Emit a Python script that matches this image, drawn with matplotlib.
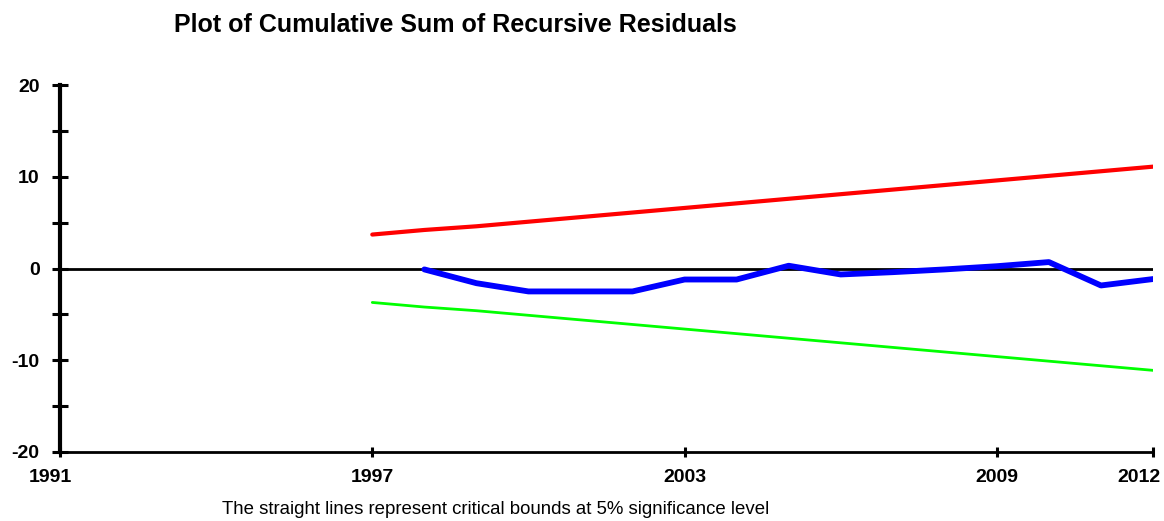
import matplotlib
matplotlib.use("Agg")
import matplotlib.pyplot as plt
import matplotlib.transforms as mtransforms

plt.rcParams['font.family'] = ['Liberation Sans', 'DejaVu Sans']

title = "Plot of Cumulative Sum of Recursive Residuals"
footnote = "The straight lines represent critical bounds at 5% significance level"

bound_years = [1997, 1998, 1999, 2000, 2001, 2002, 2003, 2004, 2005, 2006,
               2007, 2008, 2009, 2010, 2011, 2012]
upper_bound = [3.7, 4.2, 4.6, 5.1, 5.6, 6.1, 6.6, 7.1, 7.6, 8.1,
               8.6, 9.1, 9.6, 10.1, 10.6, 11.1]
lower_bound = [-3.7, -4.2, -4.6, -5.1, -5.6, -6.1, -6.6, -7.1, -7.6, -8.1,
               -8.6, -9.1, -9.6, -10.1, -10.6, -11.1]

cusum_years = [1998, 1999, 2000, 2001, 2002, 2003, 2004, 2005, 2006, 2007,
               2008, 2009, 2010, 2011, 2012]
cusum = [-0.1, -1.6, -2.5, -2.5, -2.5, -1.2, -1.2, 0.3, -0.65, -0.4,
         -0.1, 0.25, 0.7, -1.85, -1.15]

x_ticks = [1991, 1997, 2003, 2009, 2012]
y_major = [-20, -10, 0, 10, 20]
y_minor = [-15, -5, 5, 15]

fig = plt.figure(figsize=(11.64, 5.21), dpi=100)
ax = fig.add_axes([60/1164, 69/521, 1093/1164, 367/521])

ax.axhline(0, color='black', lw=2.0, zorder=2)
ax.plot(bound_years, upper_bound, color='#ff0000', lw=3.0, solid_capstyle='round', zorder=3)
ax.plot(bound_years, lower_bound, color='#00ff00', lw=2.0, solid_capstyle='round', zorder=3)
ax.plot(cusum_years, cusum, color='#0000ff', lw=4.2, solid_capstyle='round', zorder=4)

ax.set_xlim(1991, 2012)
ax.set_ylim(-20, 20)
ax.set_xticks(x_ticks)
ax.set_xticklabels([str(v) for v in x_ticks])
ax.set_yticks(y_major)
ax.set_yticklabels([str(v) for v in y_major])
ax.set_yticks(y_minor, minor=True)

for s in ['top', 'right']:
    ax.spines[s].set_visible(False)
ax.spines['left'].set_linewidth(3.0)
ax.spines['bottom'].set_linewidth(2.0)

ax.tick_params(axis='y', which='both', direction='inout', length=11.5, width=2.2,
               labelsize=14, pad=9)
ax.tick_params(axis='x', which='major', direction='inout', length=7, width=2.2,
               labelsize=14, pad=9)
for lbl in ax.get_xticklabels() + ax.get_yticklabels():
    lbl.set_fontweight('bold')

# edge labels nudged to fit, as in the reference
xl = ax.get_xticklabels()
xl[0].set_transform(xl[0].get_transform() +
                    mtransforms.ScaledTranslation(-10/100, 0, fig.dpi_scale_trans))
xl[-1].set_transform(xl[-1].get_transform() +
                     mtransforms.ScaledTranslation(-14/100, 0, fig.dpi_scale_trans))

fig.text(455/1164, 1 - 25/521, title, ha='center', va='center',
         fontsize=18, fontweight='bold')
fig.text(222/1164, 1 - 510/521, footnote, ha='left', va='center', fontsize=13.4)

fig.savefig('out.png', dpi=100)
